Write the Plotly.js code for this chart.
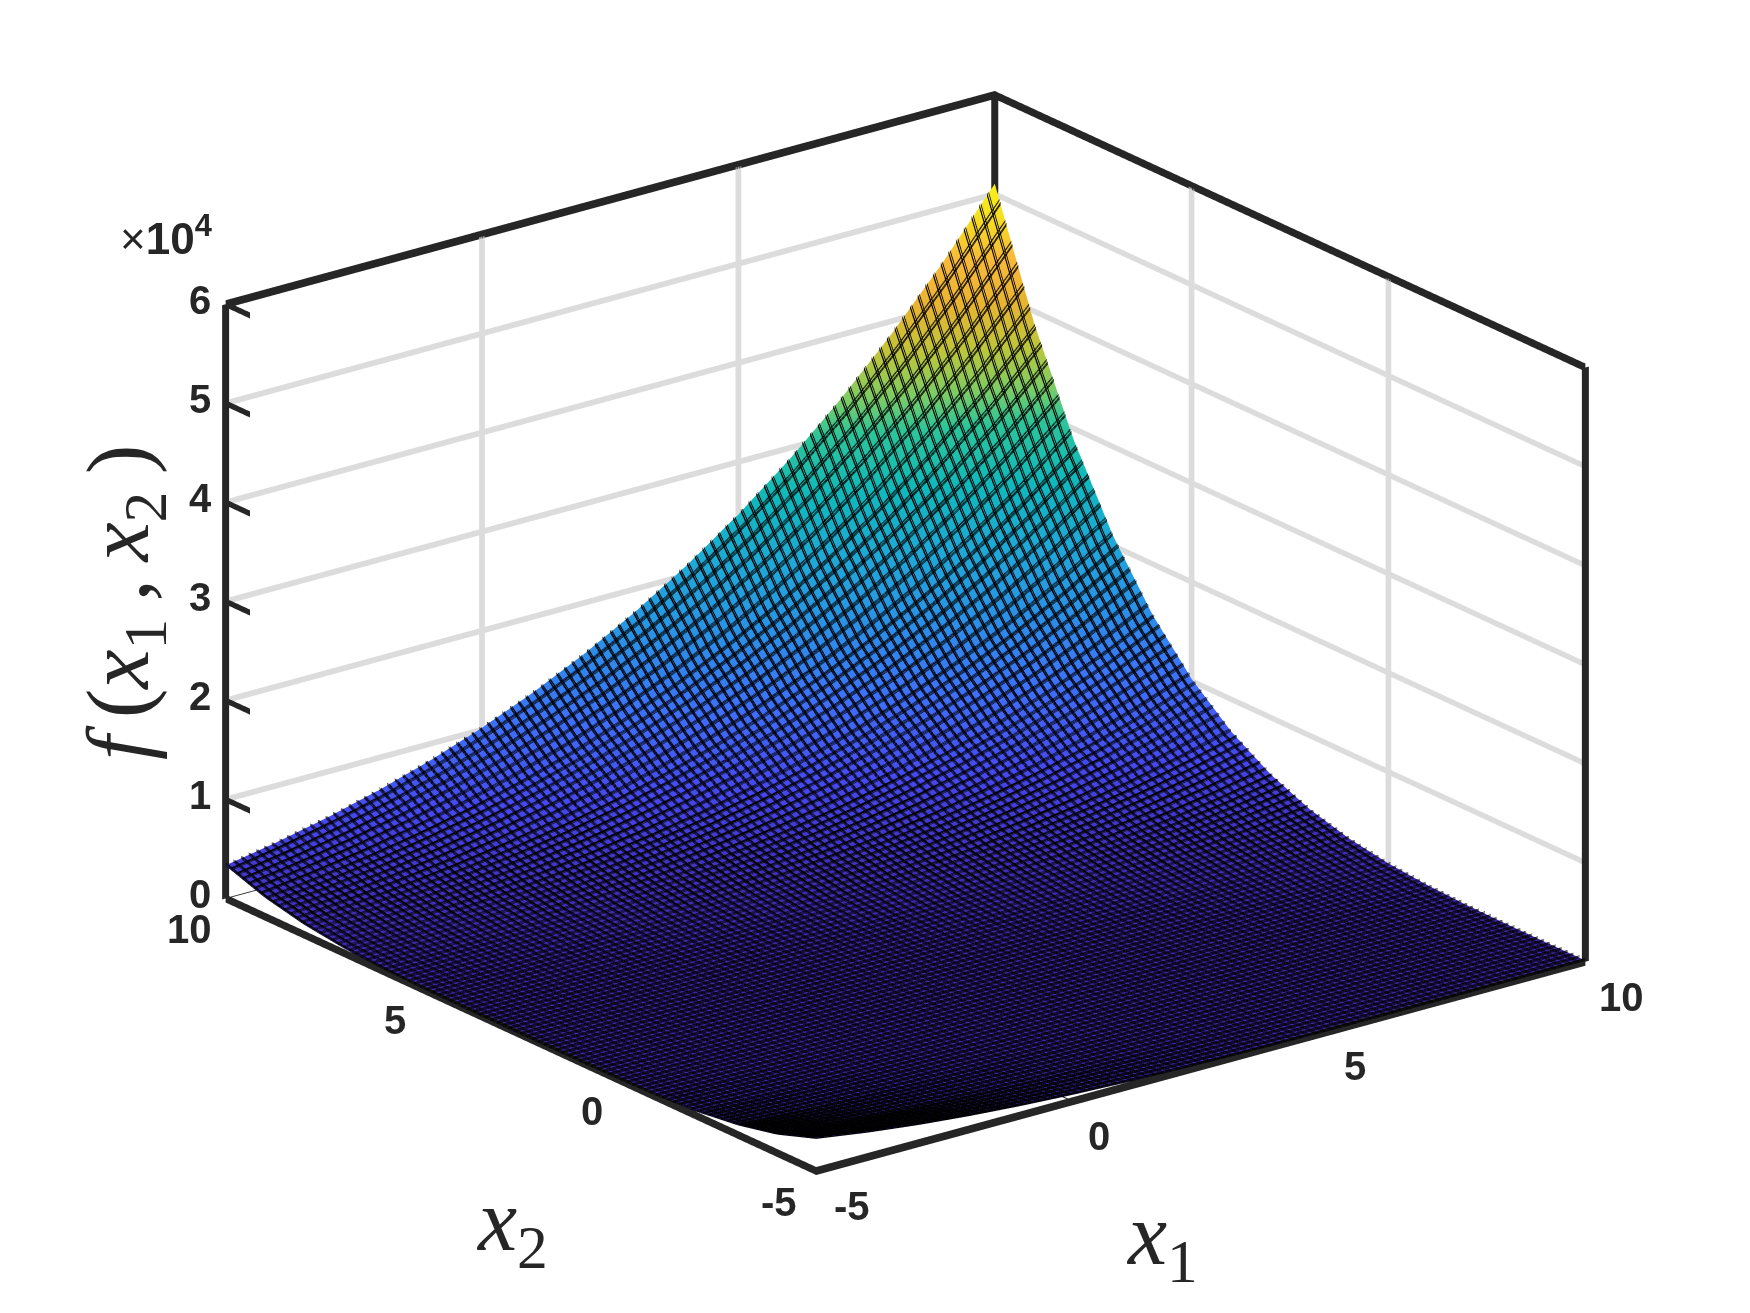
<!DOCTYPE html>
<html>
<head>
<meta charset="utf-8">
<script src="https://cdn.plot.ly/plotly-3.0.1.min.js"></script>
<style>html,body{margin:0;padding:0;background:#fff}#chart{width:1750px;height:1313px}</style>
</head>
<body>
<div id="chart"></div>
<script>
const x1Values = [-5,-4,-3,-2,-1,0,1,2,3,4,5,6,7,8,9,10];
const x2Values = [-5,-4,-3,-2,-1,0,1,2,3,4,5,6,7,8,9,10];
const fRows = [
[3270,2491,1861,1361,971,675,456,301,196,131,95,81,81,91,106,125],
[1868,1364,970,670,447,288,179,110,70,52,48,54,65,80,97,118],
[979,675,448,285,172,99,55,33,25,27,34,45,58,75,97,129],
[459,292,175,98,50,24,12,10,13,20,29,42,60,88,130,194],
[188,107,55,25,9,3,2,5,10,19,33,57,95,155,244,373],
[70,36,16,6,1,0,1,6,16,36,70,126,211,336,511,750],
[33,19,10,5,2,3,9,25,55,107,188,309,480,715,1027,1433],
[29,20,13,10,12,24,50,98,175,292,459,690,998,1400,1912,2554],
[34,27,25,33,55,99,172,285,448,675,979,1377,1885,2523,3310,4269],
[48,52,70,110,179,288,447,670,970,1364,1868,2502,3285,4240,5389,6758],
[95,131,196,301,456,675,971,1361,1861,2491,3270,4221,5366,6731,8341,10225],
[223,324,475,690,982,1368,1864,2490,3265,4212,5353,6714,8320,10200,12382,14898],
[504,715,1003,1385,1877,2499,3270,4213,5350,6707,8309,10185,12363,14875,17752,21029],
[1034,1412,1900,2518,3285,4224,5357,6710,8308,10180,12354,14862,17735,21008,24715,28894],
[1933,2547,3310,4245,5374,6723,8317,10185,12355,14859,17728,20997,24700,28875,33559,38793],
[3345,4276,5401,6746,8336,10200,12366,14866,17731,20996,24695,28866,33546,38776,44596,51050]
];
const x1Ticks = [-5,0,5,10];
const x2Ticks = [-5,0,5,10];
const zTicks = [0,10000,20000,30000,40000,50000,60000];
const zTickLabels = ['0','1','2','3','4','5','6'];
const boxX1 = [-5,10];
const boxX2 = [-5,10];
const boxZ = [0,60000];
// The scene range is 2% wider than the drawn box: WebGL discards anything outside the range,
// which would cut the thick box edges in half.
const sceneX1Range = [-5.15,10.15];
const sceneX2Range = [-5.15,10.15];
const sceneZRange = [-600,60600];
const ink = '#262626';
const gridGrey = '#dcdcdc';
const parula = [[0,'#3e26a8'],[0.1,'#4748f0'],[0.2,'#3e70fb'],[0.3,'#2a90e8'],[0.4,'#1fa8d8'],[0.5,'#0fb8bc'],[0.6,'#2cc59a'],[0.65,'#78cc68'],[0.72,'#bcc63c'],[0.8,'#e8b430'],[0.87,'#f8b83a'],[0.95,'#f5e020'],[1,'#f9f015']];
const flat = {ambient:1,diffuse:0,specular:0,roughness:1,fresnel:0};

const [xa,xb] = boxX1, [ya,yb] = boxX2, [za,zb] = boxZ;

// A thick line is a 2x2 surface ribbon: segment p-q widened by offset d, because WebGL lines stay 1px wide here.
function ribbon(p, q, d, color) {
  const corner = (e, s, i) => e[i] + s*d[i];
  const mat = i => [[corner(p,-1,i),corner(q,-1,i)],[corner(p,1,i),corner(q,1,i)]];
  return {type:'surface', x:mat(0), y:mat(1), z:mat(2), surfacecolor:[[0,0],[0,0]], cmin:0, cmax:1,
    colorscale:[[0,color],[1,color]], showscale:false, hoverinfo:'skip', lighting:flat,
    contours:{x:{highlight:false},y:{highlight:false},z:{highlight:false}}};
}
const pxX = 0.0155, pxZ = 101;   // about one screen pixel, in data units
const ribbons = [];
const inset = 0.08;
const gridTop = zb - 2*pxZ;
x1Ticks.filter(t => t>xa && t<xb).forEach(t => ribbons.push(ribbon([t,yb,za],[t,yb,gridTop],[3.6*pxX,0,0],gridGrey)));
x2Ticks.filter(t => t>ya && t<yb).forEach(t => ribbons.push(ribbon([xb,t,za],[xb,t,gridTop],[0,4.6*pxX,0],gridGrey)));
zTicks.filter(t => t>za && t<zb).forEach(t => {
  ribbons.push(ribbon([xa+inset,yb,t],[xb-inset,yb,t],[0,0,3*pxZ],gridGrey));
  ribbons.push(ribbon([xb,ya+inset,t],[xb,yb-inset,t],[0,0,3*pxZ],gridGrey));
});
const zHalf = [4.4*pxX,0,0], xyHalf = [0,0,4.0*pxZ];
ribbons.push(ribbon([xa,ya,za],[xb,ya,za],xyHalf,ink), ribbon([xa,ya,za],[xa,yb,za],xyHalf,ink),
  ribbon([xa,yb,zb],[xb,yb,zb],xyHalf,ink), ribbon([xb,ya,zb],[xb,yb,zb],xyHalf,ink),
  ribbon([xa,yb,za],[xa,yb,zb],zHalf,ink), ribbon([xb,ya,za],[xb,ya,zb],zHalf,ink), ribbon([xb,yb,za],[xb,yb,zb],zHalf,ink));
zTicks.forEach(t => ribbons.push(ribbon([xa,yb,t],[xa,yb-0.62,t],[0,0,3.0*pxZ],ink)));
x1Ticks.forEach(t => ribbons.push(ribbon([t,ya,za],[t,ya+0.62,za],[pxX,0,0],ink)));
x2Ticks.forEach(t => ribbons.push(ribbon([xa,t,za],[xa+0.62,t,za],[0,pxX,0],ink)));

// Mesh lines: hidden copies repeat the contours a hair apart (sideways and upward), which thickens the 1px lines.
const meshStep = 0.15;
const meshCopies = [[0,0],[0.03,0],[0,110],[0.03,110],[0,220]];
const meshTraces = meshCopies.map((c,n) => ({
  type:'surface', x:x1Values, y:x2Values, z:fRows.map(r => r.map(v => v + c[1])), colorscale:parula, showscale:false, hidesurface:n>0,
  lighting:flat, hoverinfo:'skip',
  contours:{
    x:{show:true,start:xa+c[0],end:xb,size:meshStep,color:'#000',width:1,highlight:false},
    y:{show:true,start:ya+c[0],end:yb,size:meshStep,color:'#000',width:1,highlight:false},
    z:{show:false,highlight:false}
  }
}));
const traces = meshTraces.concat(ribbons);

const tickFont = {family:'Liberation Sans, Arial, sans-serif', size:40, color:ink, weight:700};
const sceneNotes = [];
zTicks.forEach((t,i) => sceneNotes.push({x:xa,y:yb,z:t,text:zTickLabels[i],showarrow:false,xanchor:'center',yanchor:'middle',xshift:-26,yshift:4,font:tickFont}));
x1Ticks.forEach(t => sceneNotes.push({x:t,y:ya,z:za,text:String(t),showarrow:false,xanchor:'center',yanchor:'middle',xshift:String(t).length>1?36:26,yshift:-35,font:tickFont}));
x2Ticks.forEach(t => sceneNotes.push({x:xa,y:t,z:za,text:String(t),showarrow:false,xanchor:'center',yanchor:'middle',xshift:String(t).length>1?-37:-28,yshift:-31,font:tickFont}));

const axisBase = {showbackground:false, showgrid:false, zeroline:false, showline:false, showticklabels:false, ticks:'', showspikes:false, title:{text:''}};
const mathFont = {family:'Liberation Serif, serif', size:88, color:ink};
const layout = {
  width:1750, height:1313, margin:{l:0,r:0,t:0,b:0}, paper_bgcolor:'#fff', showlegend:false,
  scene:{
    domain:{x:[0.0351,1],y:[0.036,1]},
    aspectmode:'manual', aspectratio:{x:1.5626,y:1.5626,z:1.024},
    camera:{eye:{x:-1.138,y:-1.482,z:0.708},center:{x:0,y:0,z:0},up:{x:0,y:0,z:1},projection:{type:'orthographic'}},
    xaxis:Object.assign({},axisBase,{range:sceneX1Range,tickmode:'array',tickvals:x1Ticks}),
    yaxis:Object.assign({},axisBase,{range:sceneX2Range,tickmode:'array',tickvals:x2Ticks}),
    zaxis:Object.assign({},axisBase,{range:sceneZRange,tickmode:'array',tickvals:zTicks,ticktext:zTickLabels}),
    annotations:sceneNotes
  },
  annotations:[
    {xref:'paper',yref:'paper',x:166/1750,y:1-236/1313,text:'×<b>10<sup>4</sup></b>',showarrow:false,xanchor:'center',yanchor:'middle',font:{family:'Liberation Sans, Arial, sans-serif',size:44,color:ink}},
    {xref:'paper',yref:'paper',x:1162/1750,y:1-1240/1313,text:'<i>x</i><sub>1</sub>',showarrow:false,xanchor:'center',yanchor:'middle',font:mathFont},
    {xref:'paper',yref:'paper',x:512/1750,y:1-1226/1313,text:'<i>x</i><sub>2</sub>',showarrow:false,xanchor:'center',yanchor:'middle',font:mathFont},
    {xref:'paper',yref:'paper',x:124/1750,y:1-603/1313,text:'<i>f</i>\u2009(<i>x</i><sub>1</sub>\u2009,\u2009<i>x</i><sub>2</sub>\u2009)',textangle:-90,showarrow:false,xanchor:'center',yanchor:'middle',font:mathFont}
  ]
};
Plotly.newPlot('chart', traces, layout, {displayModeBar:false});
</script>
</body>
</html>
